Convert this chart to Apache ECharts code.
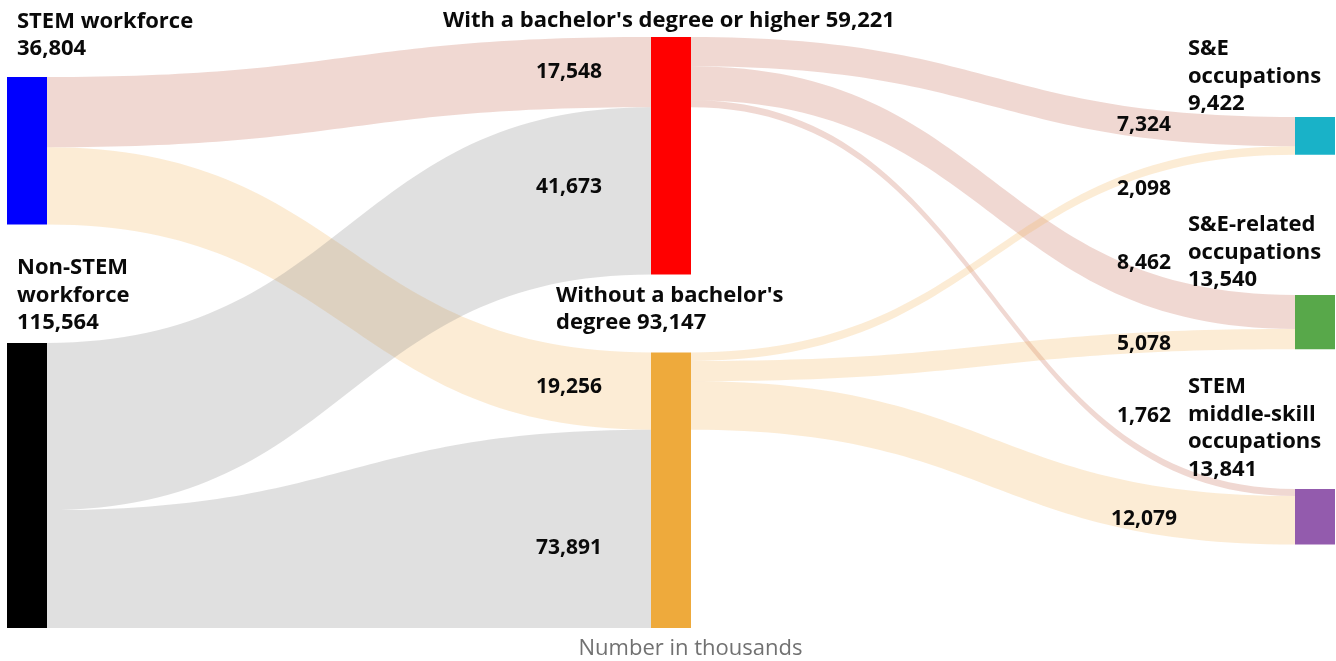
<!DOCTYPE html>
<html>
<head>
<meta charset="utf-8">
<script src="https://cdn.jsdelivr.net/npm/echarts@6/dist/echarts.min.js"></script>
<style>
  html, body { margin: 0; padding: 0; background: #fff; }
  #container { width: 1336px; height: 661px; }
</style>
</head>
<body>
<div id="container"></div>
<script>
// data
var nodeNames = ['STEM workforce', 'Non-STEM workforce', "With a bachelor's degree or higher",
  "Without a bachelor's degree", 'S&E occupations', 'S&E-related occupations', 'STEM middle-skill occupations'];
var nodeLabels = ['STEM workforce', 'Non-STEM\nworkforce', "With a bachelor's degree or higher",
  "Without a bachelor's\ndegree", 'S&E\noccupations', 'S&E-related\noccupations', 'STEM\nmiddle-skill\noccupations'];
var linkSources = [0, 0, 1, 1, 2, 2, 2, 3, 3, 3];
var linkTargets = [2, 3, 2, 3, 4, 5, 6, 4, 5, 6];
var linkValues = [17548, 19256, 41673, 73891, 7324, 8462, 1762, 2098, 5078, 12079];
var noteText = 'Number in thousands';

// layout, in pixels
var layoutHeight = 621;
var nodeTops = [77, 343, 37, 352.5, 117, 295, 489];
var nodeColors = ['#0000ff', '#000000', '#ff0000', '#eeaa3c', '#19b2c8', '#58a84a', '#935bad'];
var nodeLabelPos = [[10, -14.5], [10, -6.5], [18, -3], [-95, -15.75], [-107, 0.75], [-107, -1.25], [-107, -6]];
var edgeLabelPos = [[569, 72], [569, 387], [569, 187], [569, 548], [1144, 125.5], [1144, 263],
  [1144, 416.5], [1144, 189], [1144, 344.5], [1144, 519.5]];
var pink = 'rgba(195,99,75,0.25)', peach = 'rgba(243,179,87,0.25)', grey = 'rgba(131,131,131,0.25)';
var edgeFont = 'bold 21px "Open Sans"';

function fmt(v) { return v.toLocaleString('en-US'); }

var inSum = nodeNames.map(function () { return 0; });
var outSum = nodeNames.map(function () { return 0; });
linkValues.forEach(function (v, i) {
  outSum[linkSources[i]] += v;
  inSum[linkTargets[i]] += v;
});
var totals = nodeNames.map(function (n, i) { return Math.max(inSum[i], outSum[i]); });

var nodes = nodeNames.map(function (name, i) {
  return {
    name: name,
    value: totals[i],
    localY: nodeTops[i] / layoutHeight,
    itemStyle: { color: nodeColors[i] },
    label: {
      position: nodeLabelPos[i],
      align: i === 2 ? 'center' : 'left',
      formatter: nodeLabels[i] + (i === 2 || i === 3 ? ' ' : '\n') + fmt(totals[i])
    }
  };
});

var links = linkValues.map(function (v, i) {
  var s = linkSources[i], t = linkTargets[i];
  var deg = s === 0 ? t : s;
  var c = s === 1 ? grey : (deg === 2 ? pink : peach);
  return { source: nodeNames[s], target: nodeNames[t], value: v, lineStyle: { color: c, opacity: 1 } };
});

var graphics = [
  { type: 'rect', z: 50, shape: { x: 0, y: 628, width: 1336, height: 33 }, style: { fill: '#fff' } },
  { type: 'text', z: 60, style: { text: noteText, x: 690.5, y: 649, font: '22px "Open Sans"', fill: '#717171',
      align: 'center', textAlign: 'center', verticalAlign: 'middle', textVerticalAlign: 'middle' } }
];
linkValues.forEach(function (v, i) {
  graphics.push({ type: 'text', z: 60, style: { text: fmt(v), x: edgeLabelPos[i][0], y: edgeLabelPos[i][1],
    font: edgeFont, fill: '#0a0a0a', align: 'center', textAlign: 'center',
    verticalAlign: 'middle', textVerticalAlign: 'middle' } });
});

var dom = document.getElementById('container');
var myChart = echarts.init(dom, null, { renderer: 'canvas' });

var option = {
  animation: false,
  graphic: graphics,
  series: [{
    type: 'sankey',
    left: 7,
    right: 1,
    top: 0,
    bottom: 661 - layoutHeight,
    nodeWidth: 40,
    nodeGap: 10,
    layoutIterations: 0,
    draggable: false,
    emphasis: { disabled: true },
    label: {
      show: true,
      verticalAlign: 'bottom',
      color: '#0a0a0a',
      fontFamily: 'Open Sans',
      fontWeight: 'bold',
      fontSize: 22,
      lineHeight: 27.5
    },
    lineStyle: { curveness: 0.5 },
    data: nodes,
    links: links
  }]
};

myChart.setOption(option);
window.addEventListener('resize', myChart.resize);
</script>
</body>
</html>
